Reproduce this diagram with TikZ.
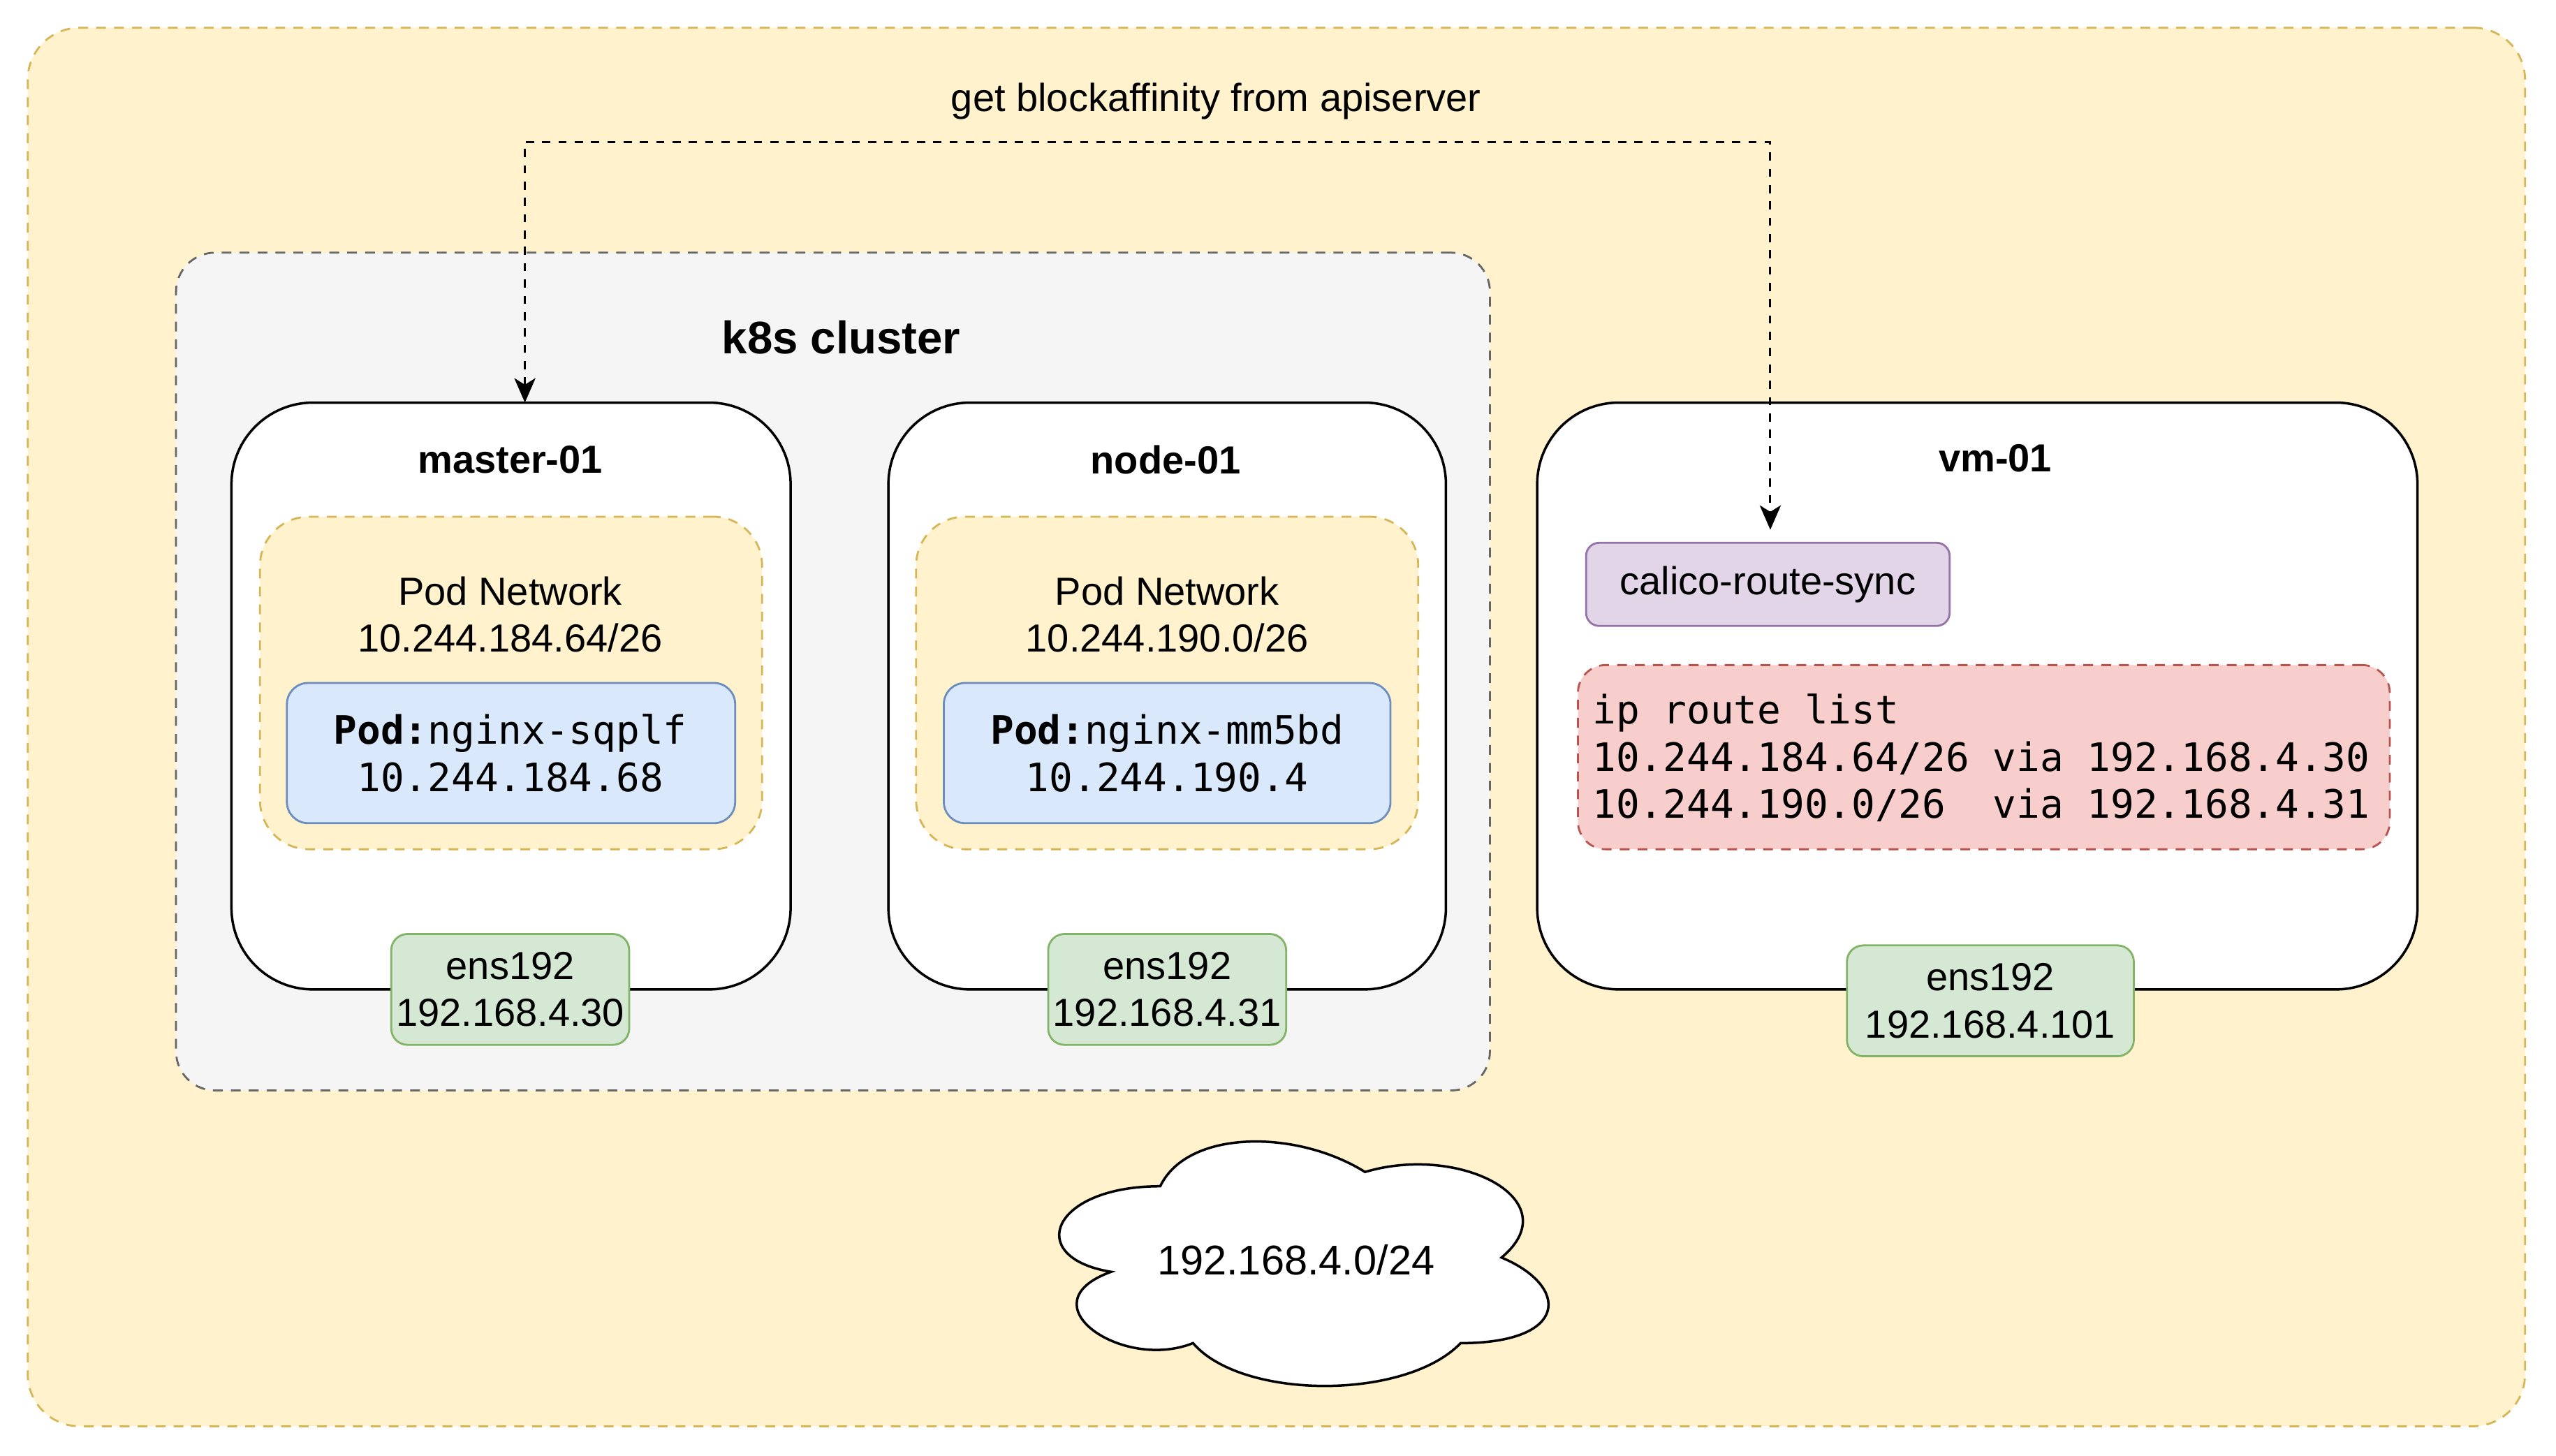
\documentclass[tikz,border=0pt]{standalone}
\usepackage{fontspec}
\setmainfont{Liberation Sans}
\setmonofont{DejaVu Sans Mono}
\usetikzlibrary{arrows.meta,calc}
\definecolor{ylfill}{HTML}{FFF2CC}
\definecolor{ylline}{HTML}{D6B656}
\definecolor{grfill}{HTML}{F5F5F5}
\definecolor{grline}{HTML}{666666}
\definecolor{blfill}{HTML}{DAE8FC}
\definecolor{blline}{HTML}{6C8EBF}
\definecolor{gnfill}{HTML}{D5E8D4}
\definecolor{gnline}{HTML}{82B366}
\definecolor{pufill}{HTML}{E1D5E7}
\definecolor{puline}{HTML}{9673A6}
\definecolor{rdfill}{HTML}{F8CECC}
\definecolor{rdline}{HTML}{B85450}
\tikzset{
  every node/.style={font=\fontsize{24}{29}\selectfont, inner sep=0pt, outer sep=0pt, text=black},
  frame/.style={draw, rectangle, line width=1.2pt},
  dashpat/.style={dash pattern=on 6pt off 5pt},
  hostbox/.style={frame, draw=black, fill=white, line width=1.5pt, rounded corners=50pt, minimum width=#1, minimum height=360pt},
  podnet/.style={frame, draw=ylline, fill=ylfill, dashpat, rounded corners=30pt, minimum width=308pt, minimum height=204pt},
  podbox/.style={frame, draw=blline, fill=blfill, rounded corners=13pt, minimum width=275pt, minimum height=86pt},
  ensbox/.style={frame, draw=gnline, fill=gnfill, rounded corners=10pt, minimum width=#1, minimum height=68pt, align=center},
  title/.style={font=\fontsize{24}{29}\selectfont\bfseries},
  txt/.style={align=center},
  mono/.style={align=center, font=\fontsize{24}{29}\selectfont\ttfamily},
  syncarrow/.style={line width=1.3pt, dash pattern=on 5pt off 5pt, {Stealth[length=15pt,width=13pt,inset=4pt]}-{Stealth[length=15pt,width=13pt,inset=4pt]}}
}
\begin{document}
\begin{tikzpicture}[x=1pt,y=-1pt]
\useasboundingbox (0,0) rectangle (1568,893);
% outer area
\node[frame, draw=ylline, fill=ylfill, dashpat, rounded corners=32pt, minimum width=1532pt, minimum height=858pt] (outer) at (783,446) {};
% k8s cluster
\node[frame, draw=grline, fill=grfill, dashpat, rounded corners=24pt, minimum width=806pt, minimum height=514pt] (k8s) at (511,412) {};
\node[font=\fontsize{28}{34}\selectfont\bfseries] (k8slbl) at (516,207) {k8s cluster};
% master-01
\node[hostbox=343pt] (master) at (313.5,427) {};
\node[title] (mtitle) at (313,282) {master-01};
\node[podnet] (pn1) at (313.5,419) {};
\node[txt] (pn1lbl) at (313,377) {Pod Network\\10.244.184.64/26};
\node[podbox] (pod1) at (313.5,462) {};
\node[mono] (pod1lbl) at (313,462) {\textbf{Pod:}nginx-sqplf\\10.244.184.68};
\node[ensbox=146pt] (ens1) at (313,607) {ens192\\192.168.4.30};
% node-01
\node[hostbox=342pt] (node01) at (716,427) {};
\node[title] (ntitle) at (715,282) {node-01};
\node[podnet] (pn2) at (716,419) {};
\node[txt] (pn2lbl) at (716,377) {Pod Network\\10.244.190.0/26};
\node[podbox, minimum width=274pt] (pod2) at (716,462) {};
\node[mono] (pod2lbl) at (716,462) {\textbf{Pod:}nginx-mm5bd\\10.244.190.4};
\node[ensbox=146pt] (ens2) at (716,607) {ens192\\192.168.4.31};
% vm-01
\node[hostbox=540pt] (vm) at (1213,427) {};
\node[title] (vtitle) at (1224,281) {vm-01};
\node[frame, draw=puline, fill=pufill, rounded corners=8pt, minimum width=223pt, minimum height=51pt] (calico) at (1084.5,358.5) {calico-route-sync};
\node[frame, draw=rdline, fill=rdfill, dashpat, rounded corners=17pt, minimum width=498pt, minimum height=113pt] (routes) at (1217,464.5) {};
\node[anchor=west, align=left, font=\fontsize{24}{29}\selectfont\ttfamily] (routelbl) at (977,465) {ip route list\\10.244.184.64/26 via 192.168.4.30\\10.244.190.0/26\ \ via 192.168.4.31};
\node[ensbox=176pt] (ens3) at (1221,614) {ens192\\192.168.4.101};
% cloud
\begin{scope}[shift={(628,684)}, x=335pt, y=-175pt]
\path[draw=black, fill=white, line width=1.5pt]
  (0.25,0.25) .. controls (0.05,0.25) and (0,0.5) .. (0.16,0.55)
  .. controls (0,0.66) and (0.18,0.9) .. (0.31,0.8)
  .. controls (0.4,1) and (0.7,1) .. (0.8,0.8)
  .. controls (1,0.8) and (1,0.6) .. (0.875,0.5)
  .. controls (1,0.3) and (0.8,0.1) .. (0.625,0.2)
  .. controls (0.5,0.05) and (0.3,0.05) .. (0.25,0.25) -- cycle;
\end{scope}
\node[txt, font=\fontsize{25.5}{30}\selectfont] (cloudlbl) at (795,773) {192.168.4.0/24};
% connector
\coordinate (turnL) at (322,87);
\coordinate (turnR) at (1086,87);
\draw[syncarrow, shorten >=8pt] (turnL |- master.north) -- (turnL) -- (turnR) -- (turnR |- calico.north);
\node[txt] (arrlbl) at (746,62) {get blockaffinity from apiserver};
\end{tikzpicture}
\end{document}
